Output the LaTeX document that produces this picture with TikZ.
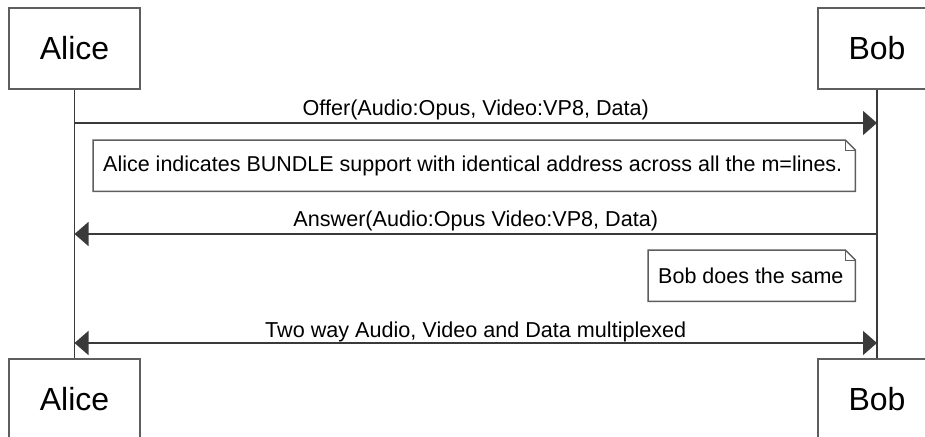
\documentclass[tikz,border=0pt]{standalone}
\usepackage{fontspec}
\setmainfont{Liberation Sans}
\usetikzlibrary{arrows.meta}
\definecolor{boxgray}{HTML}{5E5E5E}
\definecolor{linegray}{HTML}{3A3A3A}

\begin{document}
\begin{tikzpicture}[x=1pt,y=-1pt,
  actor/.style={draw=boxgray, line width=2pt, fill=white, minimum height=81pt,
    inner sep=0pt, font=\fontsize{32}{36}\selectfont},
  lifeline/.style={draw=linegray, line width=1.5pt},
  msg/.style={draw=linegray, line width=1.5pt, -{Triangle[length=14pt,width=24pt]}},
  duplex/.style={draw=linegray, line width=1.5pt, {Triangle[length=14pt,width=24pt]}-{Triangle[length=14pt,width=24pt]}},
  lbl/.style={font=\fontsize{21.6}{25}\selectfont, anchor=base, inner sep=0pt},
  notebox/.style={inner xsep=10pt, inner ysep=0pt, minimum height=51pt,
    anchor=north west, font=\fontsize{21.5}{25}\selectfont},
  noteline/.style={draw=boxgray, line width=1.5pt, line join=miter}
]
\useasboundingbox (0,0) rectangle (925,436);

% participants, top and bottom
\node[actor, minimum width=131pt] (aliceTop) at (74.5,48.5) {Alice};
\node[actor, minimum width=118pt] (bobTop) at (877,48.5) {Bob};
\node[actor, minimum width=131pt] (aliceBot) at (74.5,399.5) {Alice};
\node[actor, minimum width=118pt] (bobBot) at (877,399.5) {Bob};

% lifelines
\draw[lifeline] (aliceTop.south) -- (aliceBot.north);
\draw[lifeline] (bobTop.south) -- (bobBot.north);

% message anchor points on the lifelines
\coordinate (a1) at (74.5,123);
\coordinate (b1) at (877,123);
\coordinate (a2) at (74.5,234);
\coordinate (b2) at (877,234);
\coordinate (a3) at (74.5,343);
\coordinate (b3) at (877,343);

% messages
\draw[msg] (a1) -- node[lbl, yshift=8pt] {Offer(Audio:Opus, Video:VP8, Data)} (b1);
\draw[msg] (b2) -- node[lbl, yshift=8pt] {Answer(Audio:Opus Video:VP8, Data)} (a2);
\draw[duplex] (a3) -- node[lbl, yshift=6pt] {Two way Audio, Video and Data multiplexed} (b3);

% notes with folded corner
\node[notebox] (note1) at (93,140)
  {\makebox[742pt][l]{Alice indicates BUNDLE support with identical address across all the m=lines.}};
\node[notebox] (note2) at (648,250) {\makebox[187pt][l]{Bob does the same}};
\foreach \n in {note1,note2}{
  \draw[noteline] (\n.south west) -- (\n.north west) -- ([xshift=-10pt]\n.north east)
    -- ([yshift=-10pt]\n.north east) -- (\n.south east) -- cycle;
  \draw[noteline, line width=1pt] ([xshift=-10pt]\n.north east) -- ([xshift=-10pt,yshift=-10pt]\n.north east)
    -- ([yshift=-10pt]\n.north east);
}
\end{tikzpicture}
\end{document}
